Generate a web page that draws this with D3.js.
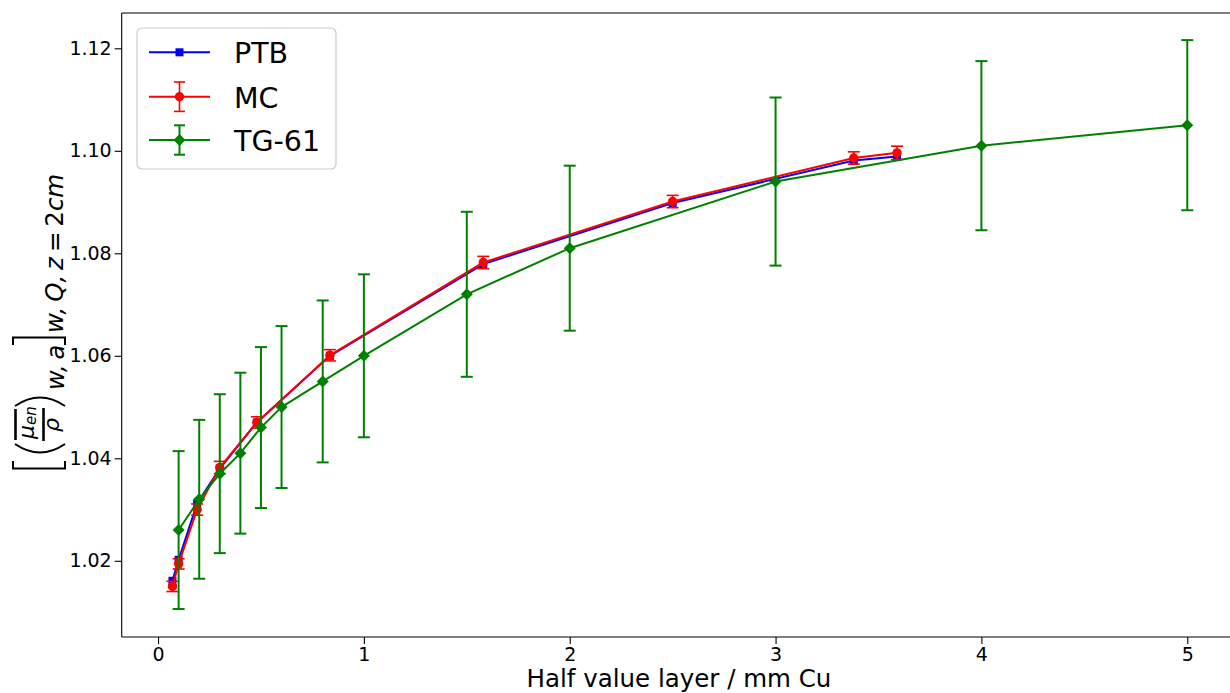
<!DOCTYPE html>
<html>
<head>
<meta charset="utf-8">
<script src="https://cdn.jsdelivr.net/npm/d3@7"></script>
<style>
  html, body { margin: 0; padding: 0; background: #fff; }
  svg { display: block; }
  text { font-family: "DejaVu Sans", sans-serif; fill: #000; }
</style>
</head>
<body>
<svg id="chart" width="1230" height="693"></svg>
<script>
// ---------------- data ----------------
const hvlPTB = [0.07, 0.10, 0.19, 0.30, 0.48, 0.835, 1.58, 2.50, 3.38, 3.59];
const ptbValues = [1.0161, 1.0202, 1.0312, 1.0380, 1.0470, 1.0600, 1.0779, 1.0898, 1.0981, 1.0989];
const mcValues  = [1.0150, 1.0194, 1.0300, 1.0382, 1.0470, 1.0601, 1.0782, 1.0901, 1.0986, 1.0996];
const mcErrors  = [0.0010, 0.0010, 0.0011, 0.0012, 0.0011, 0.0011, 0.0012, 0.0012, 0.0012, 0.0013];
const hvlTG = [0.1, 0.2, 0.3, 0.4, 0.5, 0.6, 0.8, 1.0, 1.5, 2.0, 3.0, 4.0, 5.0];
const tgValues = [1.026, 1.032, 1.037, 1.041, 1.046, 1.050, 1.055, 1.060, 1.072, 1.081, 1.094, 1.101, 1.105];
const tgErrors = [0.0154, 0.0155, 0.0155, 0.0157, 0.0157, 0.0158, 0.0158, 0.0159, 0.0161, 0.0161, 0.0164, 0.0165, 0.0166];
const xTicks = [0, 1, 2, 3, 4, 5];
const yTicks = [1.02, 1.04, 1.06, 1.08, 1.10, 1.12];
const seriesNames = ["PTB", "MC", "TG-61"];
const xLabel = "Half value layer / mm Cu";

// ---------------- layout ----------------
const svg = d3.select("#chart");
const pLeft = 121.7, pRight = 1238, pTop = 13, pBottom = 637;
const x = d3.scaleLinear().domain([-0.1765, 5.2465]).range([pLeft, pRight]);
const y = d3.scaleLinear().domain([1.00513, 1.12689]).range([pBottom, pTop]);
const colors = { PTB: "#0000ff", MC: "#ff0000", TG: "#008000" };

// axes
const xAxis = svg.append("g").attr("transform", `translate(0,${pBottom})`)
  .call(d3.axisBottom(x).tickValues(xTicks).tickFormat(d3.format("d")).tickSize(7).tickPadding(3.5));
const yAxis = svg.append("g").attr("transform", `translate(${pLeft},0)`)
  .call(d3.axisLeft(y).tickValues(yTicks).tickFormat(d3.format(".2f")).tickSize(7).tickPadding(3));
[xAxis, yAxis].forEach(g => {
  g.select(".domain").remove();
  g.selectAll(".tick line").attr("stroke", "#000").attr("stroke-width", 1.1);
  g.selectAll(".tick text").style("font-size", "19px").style("font-family", "DejaVu Sans");
});

// spines
const spine = (x1, y1, x2, y2) => svg.append("line").attr("x1", x1).attr("x2", x2).attr("y1", y1).attr("y2", y2).attr("stroke", "#000").attr("stroke-width", 1.1);
spine(pLeft, pTop, pLeft, pBottom);
spine(pLeft, pBottom, pRight, pBottom);
spine(pLeft, pTop, pRight, pTop);
spine(pRight, pTop, pRight, pBottom);

const lineGen = d3.line().x(d => x(d[0])).y(d => y(d[1]));
const capW = 6;

function errorBars(g, xs, vals, errs, color, sw) {
  xs.forEach((xv, i) => {
    const cx = x(xv), y1 = y(vals[i] + errs[i]), y0 = y(vals[i] - errs[i]);
    g.append("line").attr("x1", cx).attr("x2", cx).attr("y1", y1).attr("y2", y0).attr("stroke", color).attr("stroke-width", sw);
    [y1, y0].forEach(yy => g.append("line").attr("x1", cx - capW).attr("x2", cx + capW).attr("y1", yy).attr("y2", yy).attr("stroke", color).attr("stroke-width", sw));
  });
}

// PTB
const gP = svg.append("g");
gP.append("path").datum(hvlPTB.map((v, i) => [v, ptbValues[i]])).attr("d", lineGen)
  .attr("fill", "none").attr("stroke", colors.PTB).attr("stroke-width", 2);
gP.selectAll("rect").data(hvlPTB).join("rect")
  .attr("x", (d) => x(d) - 4).attr("y", (d, i) => y(ptbValues[i]) - 4).attr("width", 8).attr("height", 8).attr("fill", colors.PTB);

// MC
const gM = svg.append("g");
errorBars(gM, hvlPTB, mcValues, mcErrors, colors.MC, 1.6);
gM.append("path").datum(hvlPTB.map((v, i) => [v, mcValues[i]])).attr("d", lineGen)
  .attr("fill", "none").attr("stroke", colors.MC).attr("stroke-width", 2);
gM.selectAll("circle").data(hvlPTB).join("circle")
  .attr("cx", d => x(d)).attr("cy", (d, i) => y(mcValues[i])).attr("r", 4.7).attr("fill", colors.MC);

// TG-61
const gT = svg.append("g");
errorBars(gT, hvlTG, tgValues, tgErrors, colors.TG, 2);
gT.append("path").datum(hvlTG.map((v, i) => [v, tgValues[i]])).attr("d", lineGen)
  .attr("fill", "none").attr("stroke", colors.TG).attr("stroke-width", 2);
const diamond = (cx, cy, r) => `M${cx},${cy - r}L${cx + r},${cy}L${cx},${cy + r}L${cx - r},${cy}Z`;
gT.selectAll("path.mk").data(hvlTG).join("path").attr("class", "mk")
  .attr("d", (d, i) => diamond(x(d), y(tgValues[i]), 6)).attr("fill", colors.TG);

// legend
const lg = svg.append("g");
lg.append("rect").attr("x", 137).attr("y", 28).attr("width", 199).attr("height", 141).attr("rx", 5)
  .attr("fill", "#fff").attr("fill-opacity", 0.8).attr("stroke", "#cccccc").attr("stroke-width", 1.2);
const rowsY = [52.3, 96.7, 140];
const legColors = [colors.PTB, colors.MC, colors.TG];
seriesNames.forEach((name, i) => {
  const yy = rowsY[i], c = legColors[i], mx = 179.5;
  if (i > 0) {
    const w = i === 1 ? 1.6 : 2;
    lg.append("line").attr("x1", mx).attr("x2", mx).attr("y1", yy - 14.7).attr("y2", yy + 14.7).attr("stroke", c).attr("stroke-width", w);
    [yy - 14.7, yy + 14.7].forEach(q => lg.append("line").attr("x1", mx - 5.5).attr("x2", mx + 5.5).attr("y1", q).attr("y2", q).attr("stroke", c).attr("stroke-width", w));
  }
  lg.append("line").attr("x1", 149).attr("x2", 210).attr("y1", yy).attr("y2", yy).attr("stroke", c).attr("stroke-width", 2);
  if (i === 0) lg.append("rect").attr("x", mx - 4).attr("y", yy - 4).attr("width", 8).attr("height", 8).attr("fill", c);
  if (i === 1) lg.append("circle").attr("cx", mx).attr("cy", yy).attr("r", 4.7).attr("fill", c);
  if (i === 2) lg.append("path").attr("d", diamond(mx, yy, 6)).attr("fill", c);
  lg.append("text").attr("x", 234).attr("y", yy + 11).style("font-size", "28.5px").text(name);
});

// x label
svg.append("text").attr("x", 679).attr("y", 687).attr("text-anchor", "middle")
  .style("font-size", "24.5px").text(xLabel);

// y label (math-like), drawn in rotated frame: x' along text from screen y=470 upward
const yl = svg.append("g").attr("transform", "translate(63,470) rotate(-90)");
const stroke = (d, w) => yl.append("path").attr("d", d).attr("fill", "none").attr("stroke", "#000").attr("stroke-width", w || 2);
// [
stroke("M9,-50 L1.5,-50 L1.5,2 L9,2", 2);
// (
stroke("M26,-48 Q9,-23 26,2", 2);
// fraction
yl.append("line").attr("x1", 30).attr("x2", 61).attr("y1", -47.5).attr("y2", -47.5).attr("stroke", "#000").attr("stroke-width", 2.6);
yl.append("text").attr("x", 31).attr("y", -29.5).style("font-size", "22px").style("font-style", "italic").text("μ");
yl.append("text").attr("x", 45).attr("y", -27).style("font-size", "15px").style("font-style", "italic").text("en");
yl.append("line").attr("x1", 29).attr("x2", 62).attr("y1", -19.5).attr("y2", -19.5).attr("stroke", "#000").attr("stroke-width", 2.6);
yl.append("text").attr("x", 38).attr("y", -4).style("font-size", "22px").style("font-style", "italic").text("ρ");
// )
stroke("M64,-48 Q81,-23 64,2", 2);
// subscript w, a
yl.append("text").attr("x", 80).attr("y", 1).style("font-size", "24px").style("font-style", "italic").text("w,\u2009a");
// ]
stroke("M125,-50 L132.5,-50 L132.5,2 L125,2", 2);
// main
const mt = yl.append("text").attr("x", 137).attr("y", 0).style("font-size", "24.5px");
mt.append("tspan").style("font-style", "italic").text("w,\u2009Q,\u2009z");
mt.append("tspan").text("\u2009=\u20092");
mt.append("tspan").style("font-style", "italic").text("cm");
</script>
</body>
</html>
